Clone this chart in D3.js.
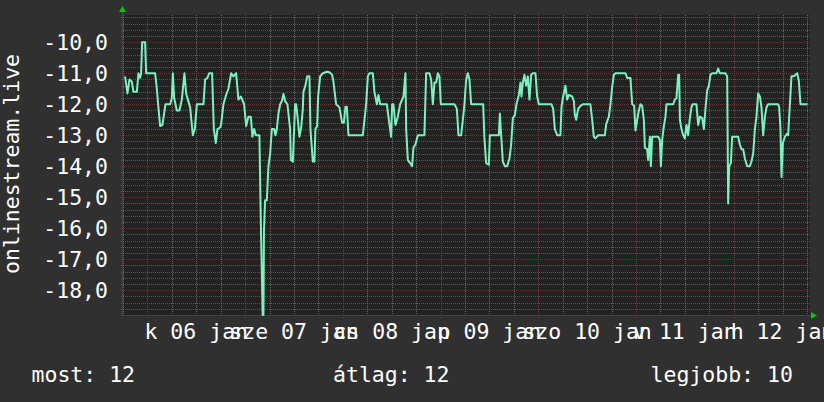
<!DOCTYPE html>
<html><head><meta charset="utf-8">
<script src="https://cdn.jsdelivr.net/npm/d3@7"></script>
<style>body{margin:0;background:#303030;overflow:hidden}</style>
</head><body><svg id="c" width="824" height="402"></svg>
<script>
// hours since 2015-01-06 00:00
const hours = [-5.5,-4.9,-4.4,-3.83,-3.44,-2.6,-2.21,-1.79,-1.55,-1.3,-0.56,-0.32,1.89,2.31,2.7,3.12,3.68,4.1,4.42,5.58,5.99,6.24,6.56,7.22,7.86,8.45,9.09,9.51,10.49,11.15,11.64,12.14,13.76,14.17,14.74,15.16,15.89,16.31,16.8,17.2,17.86,18.1,18.67,19.33,19.9,20.56,21.13,21.79,22.35,22.94,23.75,24.25,24.81,25.4,25.79,26.21,26.63,27.51,27.81,28.3,28.5,28.62,28.91,29.33,29.72,30.14,30.56,31.12,31.44,31.79,32.18,32.6,33.02,33.41,33.83,34.39,35.05,35.23,35.72,36.28,36.53,36.95,37.34,37.76,38.17,38.32,38.81,39.23,39.8,40.04,40.63,41.02,41.27,41.69,41.93,42.42,43.09,44.07,44.71,45.37,45.69,46.35,47.16,47.83,48.25,48.64,48.98,49.38,52.91,53.31,53.72,54.14,54.53,55.37,55.76,56.35,56.75,57.16,58.81,59.3,59.86,60.11,60.43,60.92,61.51,62.08,62.89,63.38,63.55,63.97,64.53,65.02,65.34,65.83,66.42,68.04,68.46,69.27,69.69,70.11,70.5,70.92,71.34,71.73,72.07,75.41,76.01,76.4,77.06,77.48,77.87,78.29,78.71,79.1,79.52,82.47,82.78,83.2,83.86,84.11,86.32,86.57,86.89,87.3,87.8,88.36,88.93,89.34,89.76,90.25,90.65,91.23,91.63,91.87,92.22,92.61,93.03,93.44,93.84,94.26,94.67,95.31,95.73,96.15,99.24,99.66,100.08,100.64,101.45,101.7,102.12,102.68,103.1,103.52,104.33,104.75,104.99,105.31,105.8,106.37,106.96,108.82,109.24,109.66,110.05,110.71,112.36,112.68,113.34,113.74,114.15,114.57,114.96,117.42,117.84,118.65,119.07,119.56,119.88,120.3,120.71,121.1,121.52,121.94,122.19,122.75,123.0,123.42,123.66,123.98,125.45,125.87,126.12,126.44,126.86,127.25,127.49,129.14,129.56,129.95,130.37,130.61,130.79,131.18,131.6,132.01,132.41,132.82,133.24,133.63,133.88,134.86,135.28,135.7,136.26,136.68,137.07,137.49,137.91,138.3,138.72,139.77,140.19,140.61,141.99,142.41,142.65,142.9,143.31,143.63,145.11,145.52,145.92,146.33,146.75,147.32,147.98,148.37,148.79,149.21,149.6,150.02,150.44,150.83,151.25,151.67,152.06,152.48,154.93,155.18,155.5,155.75,156.09,156.58,157.07,157.39,157.81,158.2,158.79,159.18,159.6,160.01,160.41,161.07,162.13];
const values = [-11.1,-11.65,-11.2,-11.27,-11.6,-11.6,-11.0,-11.15,-11.0,-10.0,-10.0,-11.0,-11.0,-11.5,-12.1,-12.7,-12.67,-12.3,-12.0,-12.0,-11.8,-11.0,-11.8,-12.2,-12.2,-11.85,-11.0,-11.65,-12.1,-13.0,-12.8,-12.0,-12.0,-11.2,-11.15,-11.0,-11.0,-12.8,-13.25,-12.8,-12.75,-12.65,-12.0,-11.7,-11.5,-11.0,-11.1,-11.0,-11.85,-11.75,-12.0,-12.7,-12.4,-12.4,-13.05,-12.8,-13.0,-13.0,-15.5,-18.8,-18.8,-16.1,-15.1,-15.1,-14.0,-13.6,-12.8,-12.8,-13.0,-12.8,-12.3,-12.0,-11.9,-11.67,-11.9,-12.0,-12.8,-13.8,-13.85,-12.0,-12.0,-12.5,-13.05,-12.75,-12.15,-11.6,-11.4,-11.1,-11.1,-12.8,-13.85,-13.85,-12.8,-12.7,-11.75,-11.1,-11.0,-10.95,-10.97,-11.05,-11.27,-12.0,-12.1,-12.6,-12.6,-12.08,-12.08,-13.0,-13.0,-12.5,-12.0,-11.1,-11.0,-11.0,-11.6,-12.0,-11.7,-12.0,-12.0,-12.5,-13.05,-12.0,-12.0,-12.67,-12.4,-12.0,-11.75,-11.0,-12.8,-13.8,-13.9,-14.0,-13.4,-13.3,-13.0,-13.0,-11.0,-11.0,-11.2,-12.0,-11.3,-11.3,-11.0,-11.1,-12.0,-12.0,-12.15,-13.0,-13.0,-12.5,-12.0,-11.2,-11.0,-11.2,-12.0,-12.0,-13.1,-13.9,-13.95,-13.0,-13.0,-12.3,-13.0,-13.85,-14.0,-14.0,-13.75,-13.3,-12.45,-12.35,-12.0,-11.7,-11.3,-11.75,-11.3,-11.05,-11.4,-11.1,-11.85,-11.05,-11.0,-11.0,-11.75,-12.0,-12.0,-12.15,-12.8,-13.0,-13.0,-12.1,-11.75,-11.4,-11.85,-11.7,-11.75,-11.9,-12.35,-12.5,-12.15,-12.05,-12.0,-12.0,-12.5,-13.05,-13.1,-13.0,-13.0,-12.65,-12.4,-12.0,-11.45,-11.05,-11.0,-11.0,-11.15,-11.15,-12.0,-12.05,-12.85,-12.5,-12.2,-12.0,-12.05,-12.5,-13.4,-13.45,-13.8,-13.05,-14.0,-13.05,-13.05,-13.15,-14.0,-13.15,-12.7,-12.4,-12.0,-12.0,-11.85,-11.8,-11.05,-11.05,-12.5,-12.8,-13.0,-13.1,-12.67,-13.0,-12.45,-12.1,-12.0,-12.0,-12.67,-12.4,-12.45,-12.8,-12.15,-11.55,-11.4,-11.05,-11.0,-11.0,-10.85,-11.0,-11.0,-11.1,-15.2,-14.0,-13.9,-13.05,-13.05,-13.3,-13.45,-13.45,-13.75,-14.0,-14.0,-13.85,-13.6,-12.8,-12.4,-11.65,-11.75,-12.1,-13.0,-12.4,-12.1,-12.0,-12.0,-12.1,-12.8,-14.35,-13.25,-13.05,-12.95,-13.0,-12.0,-11.1,-11.1,-11.05,-11.0,-11.25,-12.0,-12.0,-12.0];
const dayLabels = ["k 06 jan","sze 07 jan","cs 08 jan","p 09 jan","szo 10 jan","v 11 jan","h 12 jan"];
const yTickValues = [-10,-11,-12,-13,-14,-15,-16,-17,-18];
const axisTitle = "onlinestream.live";
const legendItems = ["most: 12","átlag: 12","legjobb: 10"];

const W = 824, H = 402;
const L = 123, R = 810, T = 15, B = 315;
const FONT = "'DejaVu Sans Mono', monospace";
const svg = d3.select("#c");
svg.append("rect").attr("width", W).attr("height", H).attr("fill", "#303030");

const x = d3.scaleLinear().domain([-6, 162.75]).range([L, R]);
const y = d3.scaleLinear().domain([-18.8, -9.12]).range([B, T]);

svg.append("rect").attr("x", L).attr("y", T).attr("width", R - L).attr("height", B - T).attr("fill", "#222222");

// grids
const g = svg.append("g").attr("shape-rendering", "crispEdges");
const minorY = d3.range(-188, -91, 2).map(v => v / 10).filter(v => Math.abs(v - Math.round(v)) > 1e-6);
g.selectAll(".hy").data(minorY).enter().append("line")
  .attr("x1", L - 2).attr("x2", R).attr("y1", d => Math.round(y(d)) + 0.5).attr("y2", d => Math.round(y(d)) + 0.5)
  .attr("stroke", "#565656").attr("stroke-width", 1).attr("stroke-dasharray", "1,1");
const minorX = d3.range(-6, 163, 6).filter(h => h % 24 !== 0);
g.selectAll(".vx").data(minorX).enter().append("line")
  .attr("x1", d => Math.round(x(d)) + 0.5).attr("x2", d => Math.round(x(d)) + 0.5).attr("y1", T).attr("y2", B + 2)
  .attr("stroke", "#6a6a6a").attr("stroke-width", 1).attr("stroke-dasharray", "1,1");
g.selectAll(".my").data(yTickValues).enter().append("line")
  .attr("x1", L - 3).attr("x2", R).attr("y1", d => Math.round(y(d)) + 0.5).attr("y2", d => Math.round(y(d)) + 0.5)
  .attr("stroke", "#6a3434").attr("stroke-width", 1).attr("stroke-dasharray", "1,1");
const majorX = d3.range(0, 163, 24);
g.selectAll(".mx").data(majorX).enter().append("line")
  .attr("x1", d => Math.round(x(d)) + 0.5).attr("x2", d => Math.round(x(d)) + 0.5).attr("y1", T).attr("y2", B + 3)
  .attr("stroke", "#7a3a3a").attr("stroke-width", 1).attr("stroke-dasharray", "1,1");

// axes lines
svg.append("line").attr("x1", L - 0.5).attr("x2", R + 2).attr("y1", B + 0.5).attr("y2", B + 0.5).attr("stroke", "#444444");
svg.append("line").attr("x1", L - 0.5).attr("x2", L - 0.5).attr("y1", T - 4).attr("y2", B + 1).attr("stroke", "#444444");
// arrows
svg.append("path").attr("d", `M${L - 4},${T - 3}L${L + 3},${T - 3}L${L - 0.5},${T - 9}Z`).attr("fill", "#00cc00");
svg.append("path").attr("d", `M${R + 1},${B - 3}L${R + 1},${B + 4}L${R + 7},${B + 0.5}Z`).attr("fill", "#00cc00");

// line
const data = hours.map((h, i) => [h, values[i]]);
svg.append("path").datum(data)
  .attr("d", d3.line().x(d => x(d[0])).y(d => y(d[1])))
  .attr("fill", "none").attr("stroke", "#7df2c0").attr("stroke-width", 2).attr("stroke-linejoin", "round");

// y labels
svg.append("g").selectAll("text").data(yTickValues).enter().append("text")
  .attr("x", 108).attr("y", d => y(d) + 8)
  .attr("text-anchor", "end").attr("fill", "#ffffff")
  .style("font-family", FONT).style("font-size", "21.5px")
  .text(d => d3.format(".1f")(d).replace(".", ",").replace("−", "-"));

// x labels (centered at noon)
svg.append("g").selectAll("text").data(dayLabels).enter().append("text")
  .attr("x", (d, i) => x(i * 24 + 12)).attr("y", 339)
  .attr("text-anchor", "middle").attr("fill", "#ffffff")
  .style("font-family", FONT).style("font-size", "21.5px")
  .text(d => d);

// axis title
svg.append("text").attr("transform", `translate(18.5,164) rotate(-90)`)
  .attr("text-anchor", "middle").attr("fill", "#ffffff")
  .style("font-family", FONT).style("font-size", "21.5px").text(axisTitle);

// legend
const legX = [31.5, 333, 650.5];
svg.append("g").selectAll("text").data(legendItems).enter().append("text")
  .attr("x", (d, i) => legX[i]).attr("y", 381.5).attr("fill", "#ffffff")
  .style("font-family", FONT).style("font-size", "21.5px").text(d => d);
</script>
</body></html>
